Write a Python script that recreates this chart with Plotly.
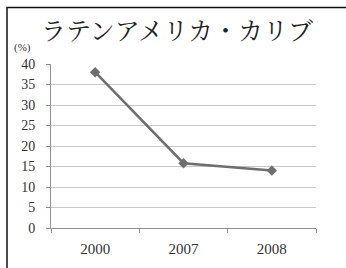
import plotly.graph_objects as go

categories = ["2000", "2007", "2008"]
values = [38.0, 15.8, 14.0]
y_ticks = [0, 5, 10, 15, 20, 25, 30, 35, 40]
title_text = "ラテンアメリカ・カリブ"
unit_text = "(%)"

W, H = 346, 268
L, R, T, B = 51, 30, 64, 40

serif = "Liberation Serif, DejaVu Serif, serif"
cjk = "Noto Serif CJK JP, Noto Sans CJK JP, sans-serif"

pw, ph = W - L - R, H - T - B


def px2paper(px, py):
    return (px - L) / pw, (H - B - py) / ph


fig = go.Figure()
fig.add_trace(go.Scatter(
    x=categories, y=values, mode="lines+markers",
    line=dict(color="#6e6e6e", width=2.5),
    marker=dict(symbol="diamond", size=8, color="#6e6e6e"),
    showlegend=False,
))

tx, ty = px2paper(177, 29)
ux, uy = px2paper(22, 48)

fig.update_layout(
    width=W, height=H,
    margin=dict(l=L, r=R, t=T, b=B, pad=0, autoexpand=False),
    paper_bgcolor="white", plot_bgcolor="white",
    xaxis=dict(
        type="category", tickson="boundaries", ticks="outside", ticklen=4,
        tickcolor="#909090", showline=True, linecolor="#909090", linewidth=1,
        showgrid=False, tickfont=dict(family=serif, size=15, color="#333"),
        range=[-0.5, 2.5], fixedrange=True, automargin=False,
        ticklabelstandoff=7,
    ),
    yaxis=dict(
        range=[0, 40], tickvals=y_ticks, ticks="outside", ticklen=4,
        tickcolor="#909090", showline=True, linecolor="#909090", linewidth=1,
        showgrid=True, gridcolor="#c8c8c8", gridwidth=1, zeroline=False,
        tickfont=dict(family=serif, size=14, color="#333"),
        ticklabelstandoff=8, automargin=False, fixedrange=True,
    ),
    annotations=[
        dict(text=title_text, x=tx, y=ty, xref="paper", yref="paper",
             xanchor="center", yanchor="middle",
             showarrow=False, font=dict(family=cjk, size=25, color="#222")),
        dict(text=unit_text, x=ux, y=uy, xref="paper", yref="paper",
             xanchor="center", yanchor="middle", showarrow=False,
             font=dict(family=serif, size=11, color="#333")),
    ],
)

# frame (top and left edges visible, extends beyond the image)
fx0, fy1 = px2paper(7, 7.5)
fx1, fy0 = px2paper(360, 280)
fig.add_shape(type="rect", xref="paper", yref="paper",
              x0=fx0, x1=fx1, y0=fy0, y1=fy1,
              line=dict(color="#111", width=1.5), fillcolor="rgba(0,0,0,0)",
              layer="above")

fig.write_html("out.html", config={"displayModeBar": False},
               post_script="document.body.style.margin='0';document.body.style.overflow='hidden';")
